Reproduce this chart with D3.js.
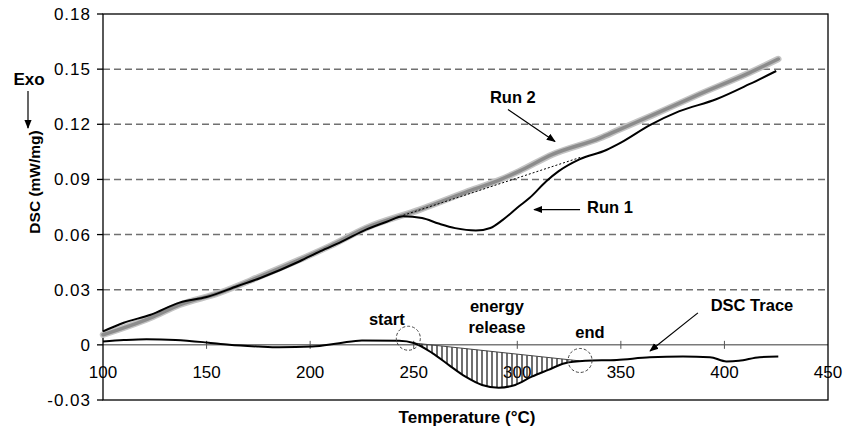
<!DOCTYPE html>
<html lang="en">
<head>
    <meta charset="UTF-8">
    <title>DSC runs</title>
    <style>
        body { margin: 0; background: #fff; }
        svg { display: block; font-family: Arial, "Liberation Sans", sans-serif; }
        .lbl { font-weight: bold; fill: #000; }
    </style>
</head>
<body>
    <script src="https://d3js.org/d3.v7.min.js"></script>
    <script type="text/javascript">
        // Run 1 (first heating, black)
        var run1Temp = [100, 110, 123, 137, 150, 165, 176, 195, 205, 215, 227, 237, 245, 254, 262, 270, 280, 287, 293, 301, 306, 314, 320, 330, 343, 350, 364, 378, 396, 412, 425];
        var run1Val  = [0.0073, 0.012, 0.0164, 0.023, 0.026, 0.032, 0.0364, 0.0455, 0.051, 0.056, 0.0627, 0.067, 0.070, 0.069, 0.066, 0.0635, 0.0622, 0.0636, 0.068, 0.0755, 0.080, 0.089, 0.0945, 0.1009, 0.106, 0.110, 0.1195, 0.127, 0.1336, 0.1418, 0.149];

        // Run 2 (second heating, grey)
        var run2Temp = [100, 123, 137, 156, 176, 195, 210, 227, 253, 275, 291, 301, 317, 340, 349, 365, 388, 412, 426];
        var run2Val  = [0.0055, 0.0147, 0.0218, 0.0282, 0.0373, 0.0464, 0.054, 0.0636, 0.0736, 0.083, 0.0895, 0.0945, 0.1036, 0.1125, 0.117, 0.1248, 0.1364, 0.148, 0.1555];

        // DSC trace (Run 1 - Run 2)
        var traceTemp = [100, 110, 121, 135, 150, 161, 175, 185, 201, 214, 225, 243, 250, 259, 267, 275, 283, 291, 299, 307, 315, 323, 333, 348, 364, 380, 393, 401, 407, 417, 426];
        var traceVal  = [0.0018, 0.0026, 0.0031, 0.0027, 0.0013, 0.0, -0.0009, -0.0013, -0.0009, 0.0009, 0.0024, 0.0022, 0.001, -0.0045, -0.011, -0.0173, -0.0218, -0.0233, -0.0218, -0.0173, -0.0136, -0.010, -0.0087, -0.0082, -0.0068, -0.0064, -0.0067, -0.009, -0.0087, -0.0067, -0.0064];

        // energy release: start / end of the exotherm
        var releaseTemp = [250, 330];
        var releaseVal  = [0.001, -0.0087];

        // extrapolated Run 1 baseline (dotted)
        var baseTemp = [245, 331];
        var baseVal  = [0.0705, 0.1022];

        // axis ticks
        var xTicks = [100, 150, 200, 250, 300, 350, 400, 450];
        var yTicks = [-0.03, 0, 0.03, 0.06, 0.09, 0.12, 0.15, 0.18];
        var yTickLabels = ["-0.03", "0", "0.03", "0.06", "0.09", "0.12", "0.15", "0.18"];

        var width = 856, height = 428;
        var plotLeft = 103, plotRight = 828, plotTop = 14, plotBottom = 400;

        var x = d3.scaleLinear().domain([100, 450]).range([plotLeft, plotRight]);
        var y = d3.scaleLinear().domain([-0.03, 0.18]).range([plotBottom, plotTop]);

        var svg = d3.select("body").append("svg")
            .attr("width", width)
            .attr("height", height);

        var defs = svg.append("defs");
        defs.append("marker")
            .attr("id", "arr")
            .attr("viewBox", "0 0 10 10")
            .attr("refX", 9).attr("refY", 5)
            .attr("markerWidth", 9).attr("markerHeight", 9)
            .attr("markerUnits", "userSpaceOnUse")
            .attr("orient", "auto")
            .append("path").attr("d", "M0,1 L10,5 L0,9 Z").attr("fill", "#000");

        var hatch = defs.append("pattern")
            .attr("id", "hatch")
            .attr("patternUnits", "userSpaceOnUse")
            .attr("width", 5).attr("height", 10);
        hatch.append("line")
            .attr("x1", 2).attr("x2", 2).attr("y1", 0).attr("y2", 10)
            .attr("stroke", "#222").attr("stroke-width", 1.3);

        // dashed gridlines
        svg.selectAll("line.grid")
            .data(yTicks.filter(function(d) { return d > 0 && d < 0.18; }))
            .enter().append("line")
            .attr("class", "grid")
            .attr("x1", plotLeft).attr("x2", plotRight)
            .attr("y1", function(d) { return y(d); })
            .attr("y2", function(d) { return y(d); })
            .attr("stroke", "#707070")
            .attr("stroke-width", 1.5)
            .attr("stroke-dasharray", "7,4");

        // zero line acting as x axis
        svg.append("line")
            .attr("x1", plotLeft).attr("x2", plotRight)
            .attr("y1", y(0)).attr("y2", y(0))
            .attr("stroke", "#7a7a7a").attr("stroke-width", 1.5);

        svg.selectAll("line.xtick")
            .data(xTicks.slice(1, -1))
            .enter().append("line")
            .attr("class", "xtick")
            .attr("x1", function(d) { return x(d); })
            .attr("x2", function(d) { return x(d); })
            .attr("y1", y(0) - 4).attr("y2", y(0) + 4)
            .attr("stroke", "#555").attr("stroke-width", 1);

        svg.selectAll("text.xlab")
            .data(xTicks)
            .enter().append("text")
            .attr("class", "xlab")
            .attr("x", function(d) { return x(d); })
            .attr("y", y(0) + 33)
            .attr("text-anchor", "middle")
            .attr("font-size", 17)
            .text(function(d) { return d; });

        // plot frame
        svg.append("rect")
            .attr("x", plotLeft).attr("y", plotTop)
            .attr("width", plotRight - plotLeft).attr("height", plotBottom - plotTop)
            .attr("fill", "none").attr("stroke", "#000").attr("stroke-width", 1.3);

        // y axis ticks + labels
        svg.selectAll("line.ytick")
            .data(yTicks)
            .enter().append("line")
            .attr("class", "ytick")
            .attr("x1", plotLeft - 6).attr("x2", plotLeft)
            .attr("y1", function(d) { return y(d); })
            .attr("y2", function(d) { return y(d); })
            .attr("stroke", "#000").attr("stroke-width", 1.3);

        svg.selectAll("text.ylab")
            .data(yTicks)
            .enter().append("text")
            .attr("class", "ylab")
            .attr("x", plotLeft - 12)
            .attr("y", function(d) { return y(d); })
            .attr("dy", "0.35em")
            .attr("text-anchor", "end")
            .attr("font-size", 17)
            .attr("letter-spacing", 1)
            .text(function(d, i) { return yTickLabels[i]; });

        // hatched energy-release area between trace and straight baseline
        var baseline = d3.scaleLinear().domain(releaseTemp).range(releaseVal);
        var traceIn = traceTemp.map(function(t, i) { return [t, traceVal[i]]; })
            .filter(function(p) { return p[0] > releaseTemp[0] && p[0] < releaseTemp[1]; });
        traceIn.unshift([releaseTemp[0], releaseVal[0]]);
        traceIn.push([releaseTemp[1], releaseVal[1]]);

        var area = d3.area()
            .x(function(d) { return x(d[0]); })
            .y0(function(d) { return y(baseline(d[0])); })
            .y1(function(d) { return y(d[1]); })
            .curve(d3.curveMonotoneX);
        svg.append("path")
            .datum(traceIn)
            .attr("d", area)
            .attr("fill", "url(#hatch)");

        svg.append("line")
            .attr("x1", x(releaseTemp[0])).attr("y1", y(releaseVal[0]))
            .attr("x2", x(releaseTemp[1])).attr("y2", y(releaseVal[1]))
            .attr("stroke", "#444").attr("stroke-width", 1);

        var line = d3.line()
            .x(function(d) { return x(d[0]); })
            .y(function(d) { return y(d[1]); })
            .curve(d3.curveMonotoneX);

        function pts(ts, vs) {
            return ts.map(function(t, i) { return [t, vs[i]]; });
        }

        // Run 2: thick soft grey
        svg.append("path")
            .datum(pts(run2Temp, run2Val))
            .attr("d", line)
            .attr("fill", "none")
            .attr("stroke", "#c4c4c4").attr("stroke-width", 6.5)
            .attr("stroke-linecap", "round");
        svg.append("path")
            .datum(pts(run2Temp, run2Val))
            .attr("d", line)
            .attr("fill", "none")
            .attr("stroke", "#8c8c8c").attr("stroke-width", 3.5)
            .attr("stroke-linecap", "round");

        // dotted baseline under the Run 1 dip
        svg.append("line")
            .attr("x1", x(baseTemp[0])).attr("y1", y(baseVal[0]))
            .attr("x2", x(baseTemp[1])).attr("y2", y(baseVal[1]))
            .attr("stroke", "#000").attr("stroke-width", 1)
            .attr("stroke-dasharray", "2,2");

        // Run 1
        svg.append("path")
            .datum(pts(run1Temp, run1Val))
            .attr("d", line)
            .attr("fill", "none")
            .attr("stroke", "#000").attr("stroke-width", 2);

        // DSC trace
        svg.append("path")
            .datum(pts(traceTemp, traceVal))
            .attr("d", line)
            .attr("fill", "none")
            .attr("stroke", "#000").attr("stroke-width", 2);

        // dashed circles marking start and end
        svg.selectAll("circle.mark")
            .data([[247.4, 0.0036], [330.3, -0.0085]])
            .enter().append("circle")
            .attr("class", "mark")
            .attr("cx", function(d) { return x(d[0]); })
            .attr("cy", function(d) { return y(d[1]); })
            .attr("r", 12)
            .attr("fill", "none")
            .attr("stroke", "#444").attr("stroke-width", 1)
            .attr("stroke-dasharray", "3,2");

        // annotation arrows (data coordinates)
        var arrows = [
            [295.5, 0.1281, 318.2, 0.1107],
            [330.3, 0.0736, 308.1, 0.0736],
            [387.2, 0.0174, 364.1, -0.0033]
        ];
        svg.selectAll("line.arrow")
            .data(arrows)
            .enter().append("line")
            .attr("class", "arrow")
            .attr("x1", function(d) { return x(d[0]); })
            .attr("y1", function(d) { return y(d[1]); })
            .attr("x2", function(d) { return x(d[2]); })
            .attr("y2", function(d) { return y(d[3]); })
            .attr("stroke", "#000").attr("stroke-width", 1.2)
            .attr("marker-end", "url(#arr)");

        // annotation labels
        var notes = [
            ["Run 2", 286.8, 0.1314, "start"],
            ["Run 1", 333.7, 0.072, "start"],
            ["DSC Trace", 413.3, 0.0185, "middle"],
            ["start", 237, 0.0109, "middle"],
            ["energy", 290.2, 0.018, "middle"],
            ["release", 290.2, 0.0065, "middle"],
            ["end", 335.1, 0.0038, "middle"]
        ];
        svg.selectAll("text.note")
            .data(notes)
            .enter().append("text")
            .attr("class", "note lbl")
            .attr("x", function(d) { return x(d[1]); })
            .attr("y", function(d) { return y(d[2]); })
            .attr("text-anchor", function(d) { return d[3]; })
            .attr("font-size", 16.5)
            .text(function(d) { return d[0]; });

        // axis titles
        svg.append("text")
            .attr("class", "lbl")
            .attr("x", 467).attr("y", 423)
            .attr("text-anchor", "middle")
            .attr("font-size", 17)
            .text("Temperature (\u00B0C)");

        svg.append("text")
            .attr("class", "lbl")
            .attr("transform", "translate(40,182) rotate(-90)")
            .attr("text-anchor", "middle")
            .attr("font-size", 15.5)
            .text("DSC (mW/mg)");

        svg.append("text")
            .attr("class", "lbl")
            .attr("x", 29).attr("y", 85)
            .attr("text-anchor", "middle")
            .attr("font-size", 17)
            .text("Exo");

        svg.append("line")
            .attr("x1", 28).attr("x2", 28)
            .attr("y1", 91).attr("y2", 128)
            .attr("stroke", "#000").attr("stroke-width", 1.2)
            .attr("marker-end", "url(#arr)");
    </script>
</body>
</html>
